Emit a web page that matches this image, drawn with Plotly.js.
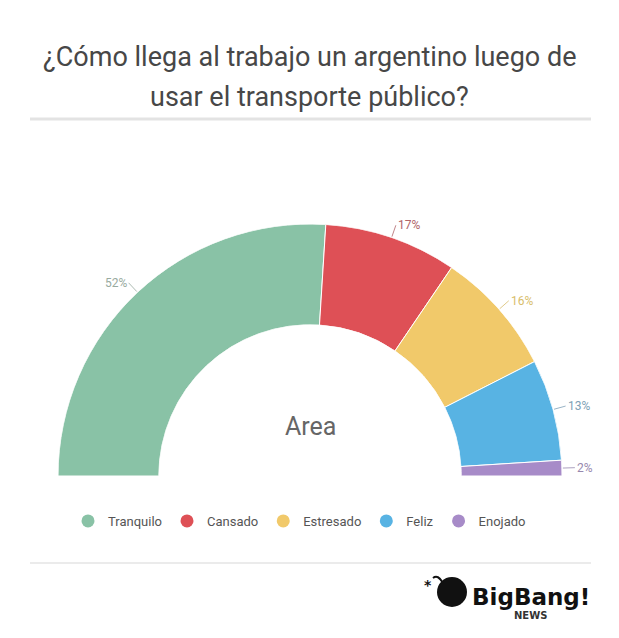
<!DOCTYPE html>
<html>
<head>
<meta charset="utf-8">
<script src="https://cdn.plot.ly/plotly-3.0.1.min.js"></script>
<style>
  html, body { margin: 0; padding: 0; background: #ffffff; }
  #chart { width: 619px; height: 638px; }
</style>
</head>
<body>
<div id="chart"></div>
<script>
// ---- data ----
const categories = ['Tranquilo', 'Cansado', 'Estresado', 'Feliz', 'Enojado'];
const values = [52, 17, 16, 13, 2];
const percentLabels = ['52%', '17%', '16%', '13%', '2%'];
const sliceColors = ['#89c2a6', '#de5056', '#f1c96a', '#58b3e3', '#a78bc8'];
const labelColors = ['#98aaa0', '#b0646a', '#d8bd6c', '#7e9fb6', '#9788ae'];
const titleLines = ['¿Cómo llega al trabajo un argentino luego de', 'usar el transporte público?'];
const centerLabel = 'Area';

// ---- geometry (page pixels) ----
const W = 619, H = 638;
const cx = 310, cy = 476, R = 252, holeFrac = 0.6;

const total = values.reduce((a, b) => a + b, 0);
const widths = values.map(v => v / total * 180);
const mids = [];
let acc = 0;
widths.forEach(w => { mids.push(acc + w / 2); acc += w; });

const traces = [{
  type: 'barpolar',
  r: values.map(() => 1),
  theta: mids,
  width: widths,
  base: values.map(() => 0),
  marker: { color: sliceColors, line: { color: '#ffffff', width: 1 } },
  showlegend: false,
  hoverinfo: 'skip'
}];

categories.forEach((c, i) => {
  traces.push({
    type: 'scatterpolar',
    mode: 'markers',
    r: [null], theta: [null],
    name: c,
    marker: { color: sliceColors[i], size: 13, symbol: 'circle' },
    hoverinfo: 'skip'
  });
});

// percent labels with short leader lines, placed from data angles
const annotations = [];
mids.forEach((m, i) => {
  // m: degrees clockwise from the left (9 o'clock)
  const a = (180 - m) * Math.PI / 180; // standard angle from east
  const px = cx + (R + 1) * Math.cos(a);
  const py = cy - (R + 1) * Math.sin(a);
  const L = 12;
  annotations.push({
    xref: 'paper', yref: 'paper',
    x: px / W, y: 1 - py / H,
    text: percentLabels[i],
    showarrow: true, arrowhead: 0, arrowwidth: 0.8,
    arrowcolor: labelColors[i],
    ax: L * Math.cos(a), ay: -L * Math.sin(a),
    xanchor: Math.cos(a) < 0 ? 'right' : 'left',
    yanchor: 'middle',
    standoff: 0, startstandoff: 0,
    font: { family: 'Roboto, sans-serif', size: 12, color: labelColors[i] }
  });
});

// title lines
annotations.push({
  xref: 'paper', yref: 'paper', x: 0.5, y: 1 - 57 / H, xanchor: 'center', yanchor: 'middle',
  text: titleLines[0], showarrow: false,
  font: { family: 'Roboto, sans-serif', size: 27, color: '#474747' }
});
annotations.push({
  xref: 'paper', yref: 'paper', x: 0.5, y: 1 - 97 / H, xanchor: 'center', yanchor: 'middle',
  text: titleLines[1], showarrow: false,
  font: { family: 'Roboto, sans-serif', size: 27, color: '#474747' }
});
// centre label
annotations.push({
  xref: 'paper', yref: 'paper', x: cx / W, y: 1 - 426 / H, xanchor: 'center', yanchor: 'middle',
  text: centerLabel, showarrow: false,
  font: { family: 'Roboto, sans-serif', size: 25, color: '#666666' }
});
// logo text
annotations.push({
  xref: 'paper', yref: 'paper', x: 470 / W, y: 1 - 597 / H, xanchor: 'left', yanchor: 'middle',
  text: '<b>BigBang!</b>', showarrow: false,
  font: { family: '"DejaVu Sans", sans-serif', size: 23, color: '#111111' }
});
annotations.push({
  xref: 'paper', yref: 'paper', x: 530 / W, y: 1 - 615 / H, xanchor: 'center', yanchor: 'middle',
  text: '<b>NEWS</b>', showarrow: false,
  font: { family: '"DejaVu Sans", sans-serif', size: 10, color: '#333333' }
});
annotations.push({
  xref: 'paper', yref: 'paper', x: 428 / W, y: 1 - 585 / H, xanchor: 'center', yanchor: 'middle',
  text: '<b>*</b>', showarrow: false,
  font: { family: '"DejaVu Sans", sans-serif', size: 14, color: '#111111' }
});

const shapes = [
  { type: 'line', xref: 'paper', yref: 'paper', x0: 30 / W, x1: 591 / W, y0: 1 - 119 / H, y1: 1 - 119 / H,
    line: { color: '#e3e3e3', width: 3 } },
  { type: 'line', xref: 'paper', yref: 'paper', x0: 30 / W, x1: 591 / W, y0: 1 - 563 / H, y1: 1 - 563 / H,
    line: { color: '#ebebeb', width: 2 } },
  // bomb
  { type: 'circle', xref: 'paper', yref: 'paper', x0: 437 / W, x1: 467 / W, y0: 1 - 607 / H, y1: 1 - 577 / H,
    fillcolor: '#111111', line: { color: '#111111', width: 0 } },
  { type: 'path', xref: 'paper', yref: 'paper',
    path: 'M ' + (443 / W) + ' ' + (1 - 583 / H) + ' Q ' + (438 / W) + ' ' + (1 - 574 / H) + ' ' + (433 / W) + ' ' + (1 - 578 / H),
    line: { color: '#111111', width: 2 } }
];

const layout = {
  width: W, height: H,
  margin: { l: 0, r: 0, t: 0, b: 0 },
  paper_bgcolor: '#ffffff',
  plot_bgcolor: '#ffffff',
  polar: {
    domain: { x: [(cx - R) / W, (cx + R) / W], y: [(H - cy) / H, (H - cy + R) / H] },
    sector: [0, 180],
    hole: holeFrac,
    bgcolor: 'rgba(0,0,0,0)',
    radialaxis: { range: [0, 1], visible: false, showgrid: false, showline: false, showticklabels: false, ticks: '' },
    angularaxis: { range: [0, 180], rotation: 180, direction: 'clockwise', visible: false, showgrid: false,
      showline: false, showticklabels: false, ticks: '', thetaunit: 'degrees' }
  },
  barmode: 'overlay',
  showlegend: true,
  legend: {
    orientation: 'h', x: 0.5 - 10 / W, xanchor: 'center', y: 1 - 521 / H, yanchor: 'middle',
    font: { family: 'Roboto, sans-serif', size: 13, color: '#555555' },
    itemclick: false, itemdoubleclick: false
  },
  annotations: annotations,
  shapes: shapes
};

Plotly.newPlot('chart', traces, layout, { displayModeBar: false, staticPlot: true });
</script>
</body>
</html>
